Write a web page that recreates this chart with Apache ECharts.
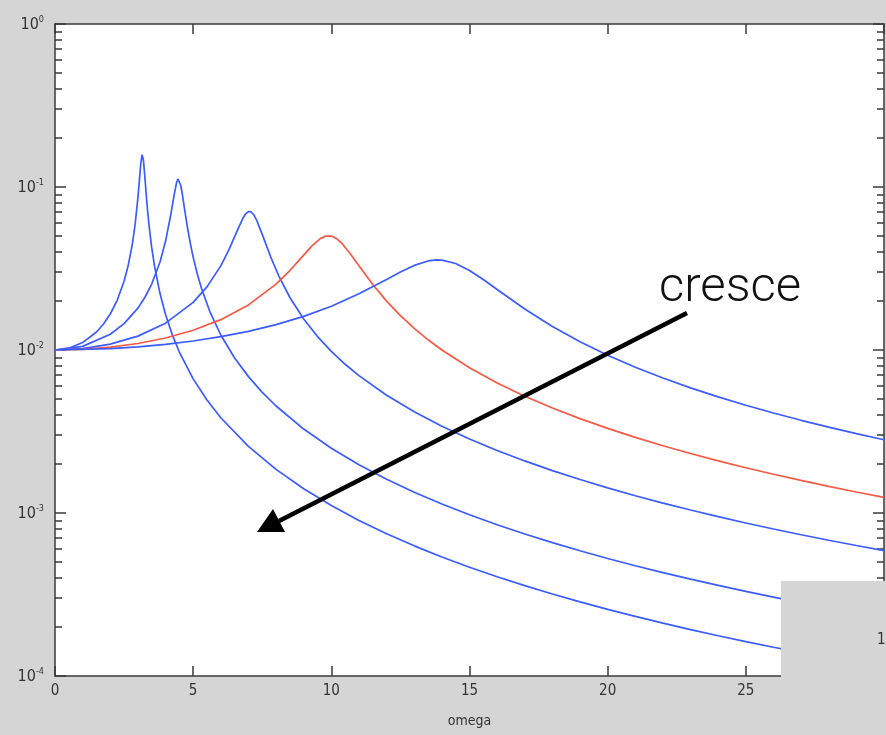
<!DOCTYPE html>
<html>
<head>
<meta charset="utf-8">
<script src="https://cdn.jsdelivr.net/npm/echarts@6/dist/echarts.min.js"></script>
<style>
html,body{margin:0;padding:0;background:#d5d5d5;}
#chart{width:886px;height:735px;}
</style>
</head>
<body>
<div id="chart"></div>
<script>
// ---- data ----
const xTicks = [0, 5, 10, 15, 20, 25, 30];
const yMajor = [1e-4, 1e-3, 1e-2, 1e-1, 1];
const yMinor = [2e-4,3e-4,4e-4,5e-4,6e-4,7e-4,8e-4,9e-4,
                2e-3,3e-3,4e-3,5e-3,6e-3,7e-3,8e-3,9e-3,
                2e-2,3e-2,4e-2,5e-2,6e-2,7e-2,8e-2,9e-2,
                0.2,0.3,0.4,0.5,0.6,0.7,0.8,0.9];

const omega1 = [0,0.5,1,1.5,1.75,2,2.25,2.5,2.65,2.8,2.9,3.0,3.05,3.1,3.15,3.16,3.2,3.25,3.3,3.35,3.4,3.5,3.6,3.8,4,4.25,4.5,5,5.5,6,7,8,9,10,11,12,13,14,15,16,17,18,19,20,21,22,23,24,25,26,27,28,29,30];
const amp1   = [0.01,0.010256,0.011108,0.012894,0.014396,0.01663,0.020169,0.026433,0.033066,0.044815,0.059085,0.085749,0.10792,0.13653,0.15754,0.15819,0.1463,0.11633,0.09025,0.071731,0.058762,0.042438,0.032827,0.0222,0.016521,0.012335,0.0097187,0.0066519,0.004931,0.0038421,0.0025625,0.001851,0.0014085,0.0011108,0.00090074,0.00074615,0.00062885,0.00053758,0.00046507,0.0004065,0.00035842,0.00031845,0.0002849,0.00025641,0.00023201,0.00021097,0.00019268,0.00017667,0.0001626,0.00015015,0.00013908,0.0001292,0.00012034,0.00011236];

const omega2 = [0,1,2,2.5,3,3.25,3.5,3.8,4.0,4.2,4.3,4.4,4.45,4.5,4.55,4.6,4.7,4.8,4.9,5.0,5.15,5.3,5.6,6,6.5,7,7.5,8,9,10,11,12,13,14,15,16,17,18,19,20,21,22,23,24,25,26,27,28,29,30];
const amp2   = [0.01,0.010524,0.012484,0.014507,0.018075,0.020993,0.025396,0.034698,0.046424,0.069037,0.087383,0.10679,0.11168,0.11006,0.10252,0.091947,0.071145,0.055624,0.044809,0.037139,0.029241,0.023914,0.017273,0.012362,0.0089285,0.0068648,0.0054985,0.0045335,0.003273,0.0024969,0.0019783,0.0016117,0.0013415,0.0011358,0.00097522,0.00084716,0.00074325,0.00065772,0.00058637,0.0005262,0.00047497,0.00043096,0.00039286,0.00035966,0.00033053,0.00030484,0.00028205,0.00026175,0.00024358,0.00022725];

const omega3 = [0,1,2,3,4,5,5.5,6,6.3,6.6,6.8,6.9,7.0,7.1,7.2,7.3,7.5,7.8,8.1,8.5,9,9.5,10,10.5,11,12,13,14,15,16,17,18,19,20,21,22,23,24,25,26,27,28,29,30];
const amp3   = [0.01,0.010202,0.010859,0.012163,0.014605,0.019612,0.024388,0.032827,0.041382,0.054222,0.064347,0.068474,0.070711,0.070305,0.067282,0.062445,0.051214,0.03744,0.028431,0.020992,0.015489,0.01209,0.0098058,0.0081754,0.0069593,0.0052763,0.0041768,0.003409,0.0028467,0.0024199,0.0020868,0.0018209,0.0016047,0.0014262,0.0012769,0.0011506,0.0010426,0.00094957,0.00086873,0.00079802,0.00073579,0.00068069,0.00063168,0.00058786];

const omega4 = [0,1,2,3,4,5,6,7,8,8.5,9,9.3,9.6,9.8,10,10.2,10.4,10.7,11,11.5,12,12.5,13,13.5,14,15,16,17,18,19,20,21,22,23,24,25,26,27,28,29,30];
const amp4   = [0.01,0.010099,0.010408,0.010965,0.011851,0.013216,0.015357,0.018908,0.025384,0.030729,0.038208,0.0435,0.048218,0.05001,0.05,0.048086,0.044757,0.038694,0.03288,0.025245,0.019952,0.016245,0.013562,0.011552,0.01,0.0077791,0.0062794,0.0052075,0.0044078,0.0037914,0.0033041,0.0029105,0.0025873,0.0023177,0.0020903,0.0018962,0.0017291,0.001584,0.0014571,0.0013454,0.0012465];

const omega5 = [0,2,3,4,5,6,7,8,9,10,11,12,12.5,13,13.5,13.8,14,14.5,15,15.5,16,17,18,19,20,21,22,23,24,25,26,27,28,29,30];
const amp5   = [0.01,0.010196,0.010451,0.010829,0.011355,0.012067,0.013023,0.014315,0.016087,0.01857,0.022117,0.027116,0.030103,0.033036,0.035185,0.0357,0.035624,0.033957,0.030769,0.027056,0.023518,0.017857,0.013948,0.011234,0.0092848,0.0078364,0.0067267,0.0058544,0.0051538,0.0045808,0.0041049,0.0037043,0.0033634,0.0030702,0.002816];

const xName = 'omega';
const annotation = 'cresce';
// -------------------------------------

const BLUE = '#3d5cff';
const RED = '#f45a46';
const AX = '#3a3a3a';
const FONT = "'Liberation Sans Narrow','DejaVu Sans Condensed','Liberation Sans',sans-serif";

function pairs(xs, ys){ return xs.map((x,i)=>[x, ys[i]]); }
function mkSeries(xs, ys, color){
  return {type:'line', xAxisIndex:0, yAxisIndex:0, data:pairs(xs,ys), showSymbol:false, symbol:'none',
          lineStyle:{color:color, width:1.7}, itemStyle:{color:color}, silent:true, animation:false, z:3};
}

const chart = echarts.init(document.getElementById('chart'), null, {renderer:'canvas'});
const logBase = {type:'log', logBase:10, min:1e-4, max:1, splitLine:{show:false}};
chart.setOption({
  backgroundColor:'#d5d5d5',
  animation:false,
  grid:{left:55, right:2, top:24, bottom:59, show:true, backgroundColor:'#ffffff', borderWidth:0,
        containLabel:false, outerBoundsMode:'none'},
  xAxis:[
    {type:'value', min:0, max:30, interval:5, position:'bottom',
     name:xName, nameLocation:'middle', nameGap:38,
     nameTextStyle:{fontFamily:FONT, fontSize:14, color:'#333'},
     axisLine:{show:true, lineStyle:{color:AX, width:1.5}},
     axisTick:{show:true, inside:true, length:10, lineStyle:{color:AX, width:1.5}},
     axisLabel:{show:true, margin:8, fontFamily:FONT, fontSize:15, color:'#333',
                customValues:xTicks},
     splitLine:{show:false}},
    {type:'value', min:0, max:30, interval:5, position:'top',
     axisLine:{show:true, lineStyle:{color:AX, width:1.5}},
     axisTick:{show:true, inside:true, length:10, lineStyle:{color:AX, width:1.5}},
     axisLabel:{show:false}, splitLine:{show:false}}
  ],
  yAxis:[
    Object.assign({}, logBase, {position:'left',
      axisLine:{show:true, lineStyle:{color:AX, width:1.5}},
      axisTick:{show:true, inside:true, length:11, lineStyle:{color:AX, width:1.5}, customValues:yMajor},
      axisLabel:{show:true, margin:11, customValues:yMajor,
        formatter:function(v){ const e=Math.round(Math.log10(v)); return '{a|10}{b|'+e+'}'; },
        rich:{a:{fontFamily:FONT, fontSize:16, color:'#333', verticalAlign:'bottom'},
              b:{fontFamily:FONT, fontSize:9, color:'#333', verticalAlign:'top', padding:[0,0,8,0]}}}}),
    Object.assign({}, logBase, {position:'left',
      axisLine:{show:false},
      axisTick:{show:true, inside:true, length:7, lineStyle:{color:AX, width:1.5}, customValues:yMinor},
      axisLabel:{show:false}}),
    Object.assign({}, logBase, {position:'right',
      axisLine:{show:true, lineStyle:{color:AX, width:1.5}},
      axisTick:{show:true, inside:true, length:11, lineStyle:{color:AX, width:1.5}, customValues:yMajor},
      axisLabel:{show:false}}),
    Object.assign({}, logBase, {position:'right',
      axisLine:{show:false},
      axisTick:{show:true, inside:true, length:7, lineStyle:{color:AX, width:1.5}, customValues:yMinor},
      axisLabel:{show:false}})
  ],
  series:[
    mkSeries(omega1, amp1, BLUE),
    mkSeries(omega2, amp2, BLUE),
    mkSeries(omega3, amp3, BLUE),
    mkSeries(omega4, amp4, RED),
    mkSeries(omega5, amp5, BLUE)
  ],
  graphic:[
    {type:'line', z:100, shape:{x1:687, y1:313, x2:279, y2:521}, style:{stroke:'#000', lineWidth:4.5}},
    {type:'polygon', z:100, shape:{points:[[257,532],[285,532],[273,509]]}, style:{fill:'#000'}},
    {type:'text', z:100, left:659, top:264, style:{text:annotation, fontFamily:"Roboto,'Open Sans',sans-serif", fontWeight:300, fontSize:49, fill:'#111'}},
    {type:'rect', z:100, shape:{x:781, y:581, width:105, height:154}, style:{fill:'#d5d5d5'}},
    {type:'text', z:101, left:877, top:633, style:{text:'1', fontFamily:FONT, fontSize:15, fill:'#333'}}
  ]
});
</script>
</body>
</html>
